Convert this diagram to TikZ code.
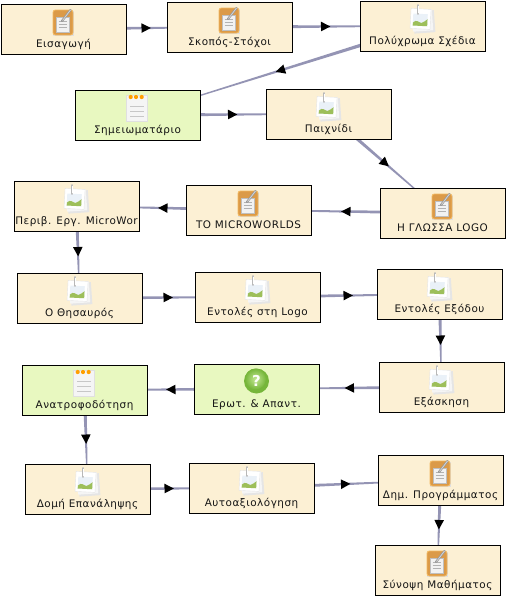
\documentclass[tikz,border=0pt]{standalone}
\usepackage{fontspec}
\setmainfont{DejaVu Sans}
\usetikzlibrary{calc,backgrounds,arrows.meta,decorations.markings}
\definecolor{cream}{HTML}{FCF0D4}
\definecolor{lime}{HTML}{E8F8C0}
\definecolor{edgec}{HTML}{9494B4}
\definecolor{clipo}{HTML}{DB9A48}
\definecolor{clipl}{HTML}{F2B860}
\definecolor{photog}{HTML}{9DBF5A}
\definecolor{photow}{HTML}{EAF1F8}
\definecolor{ballin}{HTML}{C4E894}
\definecolor{ballout}{HTML}{76B63A}
\tikzset{
  box/.style={draw=black,line width=1pt,minimum width=125pt,minimum height=50pt,inner sep=0pt,outer sep=0pt,fill=#1},
  box/.default=cream,
  lbl/.style={anchor=base,inner sep=0pt,font=\fontsize{10.4}{12}\selectfont\addfontfeature{LetterSpace=5},text=black!92},
  edgeline/.style={draw=edgec,line width=1pt,postaction={decorate},
    decoration={markings,mark=at position .5 with {\arrow[black,xshift=5.5pt]{Triangle[length=11pt,width=11pt]}}}},
  pics/clipboard/.style={code={
    \fill[black!12] (-10.5,-12.5) rectangle (10.5,12.8);
    \fill[rounded corners=2.5pt,draw=clipl,fill=clipo,line width=.9pt] (-10.5,-13) rectangle (9.5,12);
    \fill[white!95!black,draw=black!25,line width=.4pt] (-7.5,-6) rectangle (5.5,9);
    \foreach \yy in {-2,1,4}{\draw[black!30,line width=.5pt] (-5,\yy) -- (3.5,\yy);}
    \draw[black!40,line width=2.2pt,line cap=round] (-1.5,-2) -- (7,-13);
    \draw[white!85!black,line width=.7pt] (-1,-2.5) -- (7,-13);
  }},
  pics/photo/.style={code={
    \fill[black!10,rotate=4] (-9,-9) rectangle (12,13);
    \fill[black!4,rotate=4] (-10,-10) rectangle (10,11);
    \fill[white,draw=black!10,line width=.4pt,rotate=-3] (-12,-11) rectangle (8,9);
    \fill[photow,rotate=-3] (-9.5,-6) rectangle (5,6);
    \fill[photog,rotate=-3] (-9.5,6) -- (-9.5,3) .. controls (-6,-1) and (-3,3) .. (-1,3) .. controls (1,3) and (3,0) .. (5,-1) -- (5,6) -- cycle;
    \draw[black!28,line width=1.6pt,line cap=round] (-4.5,-15) -- (-4.5,-6);
    \draw[white,line width=.5pt,line cap=round] (-4.5,-14) -- (-4.5,-7);
  }},
  pics/notepad/.style={code={
    \fill[black!10] (-11,-13) rectangle (10.5,13.2);
    \fill[white!96!black,draw=black!12,line width=.5pt] (-11.5,-14) rectangle (10,12.5);
    \foreach \xx in {-6.8,-1.5,4.2}{\fill[orange!75!yellow] (\xx,-12) circle (2.1pt);}
    \foreach \yy in {-3,2.7,7.7}{\draw[black!22,line width=.8pt] (-7.5,\yy) -- (6,\yy);}
  }},
  pics/quiz/.style={code={
    \fill[ballout] (0,-2) circle (12.5pt);
    \shade[inner color=ballin,outer color=ballout] (-1,-4) circle (10.5pt);
    \node[inner sep=0pt,text=white!92!lime,font=\bfseries\fontsize{15}{15}\selectfont] (qm) at (0,-2) {?};
  }}
}
\newcommand{\task}[7]{% name, x, y, fill, icon, icon dx, text
  \node[box=#4] (#1) at (#2,#3) {};
  \pic at ($(#1.center)+(#6,-6)$) {#5};
  \node[lbl] (#1-t) at ($(#1.center)+(0,18.3)$) {#7};
}
\newcommand{\edgeab}[2]{%
  \begin{scope}[on background layer]
    \fill[edgec] ($(#1)!2.0pt!90:(#2)$) -- ($(#2)!.3pt!-90:(#1)$) -- ($(#2)!.3pt!90:(#1)$) -- ($(#1)!2.0pt!-90:(#2)$) -- cycle;
    \draw[edgeline,draw opacity=0] (#1) -- (#2);
  \end{scope}
}
\begin{document}
\begin{tikzpicture}[x=1pt,y=-1pt]
\useasboundingbox (0,0) rectangle (510,600);
\begin{scope}[on background layer]
  \fill[white] (0,0) rectangle (510,600);
\end{scope}
\task{a}{63.5}{29}{cream}{clipboard}{0}{Εισαγωγή}
\task{b}{229.5}{27}{cream}{clipboard}{0}{Σκοπός-Στόχοι}
\task{c}{422.5}{26}{cream}{photo}{0}{Πολύχρωμα Σχέδια}
\task{d}{137.5}{115}{lime}{notepad}{0}{Σημειωματάριο}
\task{e}{328.5}{114}{cream}{photo}{0}{Παιχνίδι}
\task{f}{442.5}{213}{cream}{clipboard}{0}{Η ΓΛΩΣΣΑ LOGO}
\task{g}{248.5}{210}{cream}{clipboard}{0}{ΤΟ MICROWORLDS}
\task{h}{76.5}{206}{cream}{photo}{0}{Περιβ. Εργ. MicroWor}
\task{i}{79.5}{298}{cream}{photo}{0}{Ο Θησαυρός}
\task{j}{257.5}{297}{cream}{photo}{0}{Εντολές στη Logo}
\task{k}{439.5}{294}{cream}{photo}{0}{Εντολές Εξόδου}
\task{l}{441.5}{387}{cream}{photo}{0}{Εξάσκηση}
\task{m}{256.5}{389}{lime}{quiz}{0}{Ερωτ. \& Απαντ.}
\task{n}{84.5}{390}{lime}{notepad}{0}{Ανατροφοδότηση}
\task{o}{87.5}{489}{cream}{photo}{0}{Δομή Επανάληψης}
\task{p}{251.5}{488}{cream}{photo}{0}{Αυτοαξιολόγηση}
\task{q}{440.5}{480}{cream}{clipboard}{0}{Δημ. Προγράμματος}
\task{r}{437.5}{570}{cream}{clipboard}{0}{Σύνοψη Μαθήματος}
\edgeab{a}{b}\edgeab{b}{c}\edgeab{c}{d}\edgeab{d}{e}\edgeab{e}{f}\edgeab{f}{g}
\edgeab{g}{h}\edgeab{h}{i}\edgeab{i}{j}\edgeab{j}{k}\edgeab{k}{l}\edgeab{l}{m}
\edgeab{m}{n}\edgeab{n}{o}\edgeab{o}{p}\edgeab{p}{q}\edgeab{q}{r}
\end{tikzpicture}
\end{document}
